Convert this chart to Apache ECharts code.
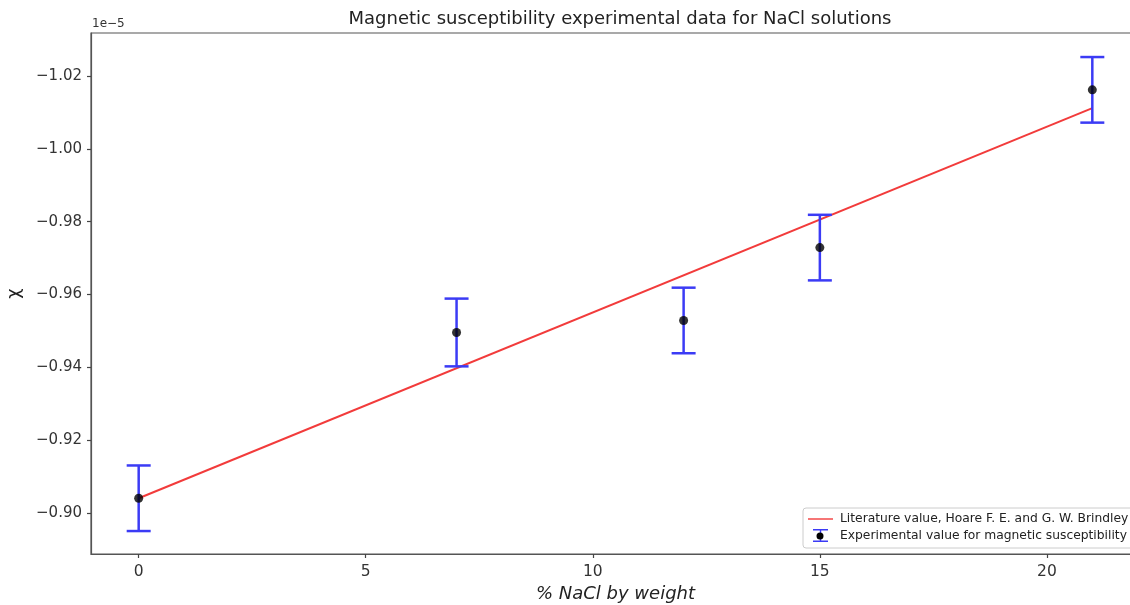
<!DOCTYPE html>
<html>
<head>
<meta charset="utf-8">
<script src="https://cdn.jsdelivr.net/npm/echarts@6/dist/echarts.min.js"></script>
<style>
  html, body { margin: 0; padding: 0; background: #fff; overflow: hidden; }
  #chart { width: 1130px; height: 605px; }
</style>
</head>
<body>
<div id="chart"></div>
<script>
// values in units of 1e-5
var nacl = [0, 7, 12, 15, 21];
var chi = [-0.9041, -0.9496, -0.9529, -0.9729, -1.0162];
var chiErr = [0.009, 0.0093, 0.009, 0.009, 0.009];
var litX = [0, 21];
var litChi = [-0.9041, -1.0112];
var xTicks = [0, 5, 10, 15, 20];
var yTicks = [-1.02, -1.00, -0.98, -0.96, -0.94, -0.92, -0.90];

var chart = echarts.init(document.getElementById('chart'));
var font = 'DejaVu Sans';

var errData = nacl.map(function(x, i) {
  return [x, chi[i] - chiErr[i], chi[i] + chiErr[i]];
});

function renderErrorBar(params, api) {
  var top = api.coord([api.value(0), api.value(1)]);
  var bot = api.coord([api.value(0), api.value(2)]);
  var cap = 12;
  var style = { stroke: '#3b3bf5', lineWidth: 2.5 };
  return {
    type: 'group',
    children: [
      { type: 'line', shape: { x1: top[0], y1: top[1], x2: bot[0], y2: bot[1] }, style: style },
      { type: 'line', shape: { x1: top[0] - cap, y1: top[1], x2: top[0] + cap, y2: top[1] }, style: style },
      { type: 'line', shape: { x1: bot[0] - cap, y1: bot[1], x2: bot[0] + cap, y2: bot[1] }, style: style }
    ]
  };
}

var option = {
  backgroundColor: '#fff',
  animation: false,
  textStyle: { fontFamily: font },
  title: {
    text: 'Magnetic susceptibility experimental data for NaCl solutions',
    left: 615,
    top: 5,
    textAlign: 'center',
    textStyle: { fontFamily: font, fontSize: 18, fontWeight: 'normal', color: '#222' }
  },
  graphic: [
    { type: 'text', left: 92, top: 18, style: { text: '1e\u22125', fontFamily: font, fontSize: 12, fill: '#333' } },
    { type: 'circle', shape: { cx: 820, cy: 536, r: 3.5 }, style: { fill: '#000' }, z: 100 }
  ],
  legend: {
    orient: 'vertical',
    left: 803,
    top: 508,
    padding: [5, 6, 6, 5],
    itemGap: 4,
    itemWidth: 25,
    itemHeight: 13,
    backgroundColor: 'rgba(255,255,255,0.85)',
    borderColor: '#ccc',
    borderWidth: 1,
    borderRadius: 3,
    textStyle: { fontFamily: font, fontSize: 12.3, color: '#222', padding: [0, 0, 0, 2] },
    data: [
      { name: 'Literature value, Hoare F. E. and G. W. Brindley', icon: 'path://M0,5.8 L25,5.8 L25,7.2 L0,7.2 Z', itemStyle: { color: '#f23b3b' } },
      { name: 'Experimental value for magnetic susceptibility', icon: 'path://M5,0 L20,0 L20,1.5 L13.2,1.5 L13.2,11.5 L20,11.5 L20,13 L5,13 L5,11.5 L11.8,11.5 L11.8,1.5 L5,1.5 Z', itemStyle: { color: '#3b3bf5' } }
    ]
  },
  grid: {
    left: 91,
    top: 33,
    width: 1049,
    bottom: 51,
    outerBoundsMode: 'none',
    show: true,
    borderColor: '#555',
    borderWidth: 1.2
  },
  xAxis: {
    type: 'value',
    min: -1.05,
    max: 22.05,
    name: '% NaCl by weight',
    nameLocation: 'middle',
    nameGap: 30,
    nameTextStyle: { fontFamily: font, fontSize: 18, fontStyle: 'italic', color: '#222' },
    splitLine: { show: false },
    axisLine: { show: true, onZero: false, lineStyle: { color: '#555', width: 1.2 } },
    axisTick: { show: true, length: 4, customValues: xTicks, lineStyle: { color: '#444', width: 1.2 } },
    axisLabel: { customValues: xTicks, fontFamily: font, fontSize: 15.5, color: '#333', margin: 10 }
  },
  yAxis: {
    type: 'value',
    inverse: true,
    min: -1.0318,
    max: -0.8888,
    name: '\u03c7',
    nameLocation: 'middle',
    nameGap: 68,
    nameRotate: 90,
    nameTextStyle: { fontFamily: font, fontSize: 18, color: '#222' },
    splitLine: { show: false },
    axisLine: { show: true, onZero: false, lineStyle: { color: '#555', width: 1.2 } },
    axisTick: { show: true, length: 4, customValues: yTicks, lineStyle: { color: '#444', width: 1.2 } },
    axisLabel: {
      customValues: yTicks,
      fontFamily: font,
      fontSize: 15,
      color: '#333',
      margin: 9,
      formatter: function(v) { return '\u2212' + Math.abs(v).toFixed(2); }
    }
  },
  series: [
    {
      name: 'Literature value, Hoare F. E. and G. W. Brindley',
      type: 'line',
      data: litX.map(function(x, i) { return [x, litChi[i]]; }),
      showSymbol: false,
      lineStyle: { color: '#f23b3b', width: 2 },
      itemStyle: { color: '#f23b3b' },
      z: 2
    },
    {
      name: 'Experimental value for magnetic susceptibility',
      type: 'custom',
      renderItem: renderErrorBar,
      data: errData,
      itemStyle: { color: '#3b3bf5' },
      encode: { x: 0, y: [1, 2] },
      z: 3
    },
    {
      name: 'Experimental value for magnetic susceptibility',
      type: 'scatter',
      data: nacl.map(function(x, i) { return [x, chi[i]]; }),
      symbolSize: 9,
      itemStyle: { color: '#000' },
      z: 4
    }
  ]
};

chart.setOption(option);
</script>
</body>
</html>
